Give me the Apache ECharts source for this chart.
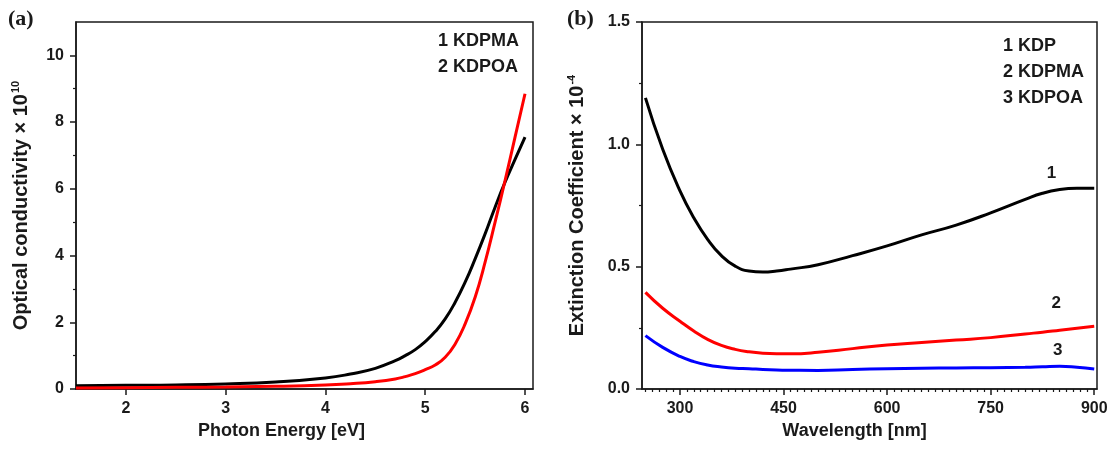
<!DOCTYPE html>
<html>
<head>
<meta charset="utf-8">
<script src="https://cdn.jsdelivr.net/npm/echarts@6/dist/echarts.min.js"></script>
<style>
  html, body { margin: 0; padding: 0; background: #fff; }
  #main { width: 1111px; height: 450px; }
</style>
</head>
<body>
<div id="main"></div>
<script>
// panel (a): optical conductivity vs photon energy
var energy = [1.5, 2.0, 2.5, 3.0, 3.5, 4.0, 4.25, 4.5, 4.7, 4.8, 4.9, 5.0, 5.1, 5.2, 5.3, 5.4, 5.5, 5.6, 5.7, 5.8, 5.9, 6.0];
var kdpmaCond = [0.10, 0.11, 0.12, 0.15, 0.21, 0.33, 0.45, 0.62, 0.85, 1.00, 1.18, 1.42, 1.72, 2.10, 2.60, 3.20, 3.90, 4.65, 5.45, 6.20, 6.88, 7.55];
var kdpoaCond = [0.03, 0.04, 0.05, 0.06, 0.08, 0.12, 0.16, 0.22, 0.30, 0.37, 0.46, 0.58, 0.72, 0.95, 1.35, 1.95, 2.75, 3.80, 5.00, 6.25, 7.55, 8.85];
var energyTicks = [2, 3, 4, 5, 6];
var condTicks = [0, 2, 4, 6, 8, 10];
var condMinor = [1, 3, 5, 7, 9];

// panel (b): extinction coefficient vs wavelength
var wavelength = [250, 275, 300, 320, 340, 360, 380, 400, 420, 440, 460, 500, 550, 600, 650, 700, 750, 800, 825, 850, 875, 900];
var kdpExt   = [1.19, 0.98, 0.81, 0.70, 0.612, 0.545, 0.502, 0.482, 0.478, 0.482, 0.49, 0.508, 0.545, 0.585, 0.63, 0.67, 0.72, 0.775, 0.80, 0.815, 0.82, 0.82];
var kdpmaExt = [0.395, 0.33, 0.277, 0.237, 0.203, 0.178, 0.162, 0.152, 0.146, 0.144, 0.144, 0.15, 0.165, 0.18, 0.19, 0.20, 0.21, 0.225, 0.232, 0.24, 0.248, 0.256];
var kdpoaExt = [0.218, 0.17, 0.133, 0.112, 0.098, 0.09, 0.085, 0.083, 0.08, 0.078, 0.077, 0.076, 0.08, 0.083, 0.085, 0.086, 0.087, 0.089, 0.091, 0.093, 0.089, 0.082];
var waveTicks = [300, 450, 600, 750, 900];

function pairs(xs, ys){
    var out = [];
    for(var i=0;i<xs.length;i++){
        out.push([xs[i], ys[i]]);
    }
    return out;
}
var waveMinor = [];
for(var w=250; w<=900; w+=10){
    if(waveTicks.indexOf(w) < 0) waveMinor.push(w);
}

var font = 'Liberation Sans, Arial, sans-serif';
var axisColor = '#1a1a1a';
var labelStyle = { color: '#1a1a1a', fontFamily: font, fontWeight: 'bold', fontSize: 16 };
var nameStyle = { color: '#1a1a1a', fontFamily: font, fontWeight: 'bold', fontSize: 18 };
var yNameRich = {
    a: { fontFamily: font, fontWeight: 'bold', fontSize: 20, color: '#1a1a1a' },
    s: { fontFamily: font, fontWeight: 'bold', fontSize: 11, color: '#1a1a1a', verticalAlign: 'top', padding: [0, 0, 11, 1] }
};

var myChart = echarts.init(document.getElementById('main'));
var option = {
    backgroundColor: '#fff',
    animation: false,
    grid: [
        { left: 76, top: 22, width: 457, height: 367, show: true, borderColor: axisColor, borderWidth: 1.5, backgroundColor: 'transparent' },
        { left: 642, top: 22, width: 455, height: 367, show: true, borderColor: axisColor, borderWidth: 1.5, backgroundColor: 'transparent' }
    ],
    xAxis: [
        {
            type: 'value', gridIndex: 0, min: 1.5, max: 6.08,
            name: 'Photon Energy [eV]', nameLocation: 'middle', nameGap: 33,
            nameTextStyle: Object.assign({ padding: [0, 46, 0, 0] }, nameStyle),
            axisLine: { show: true, onZero: false, lineStyle: { color: axisColor, width: 1.5 } },
            axisTick: { show: true, length: 6, customValues: energyTicks, lineStyle: { color: axisColor, width: 1.5 } },
            axisLabel: Object.assign({ customValues: energyTicks, margin: 12 }, labelStyle),
            splitLine: { show: false }
        },
        {
            type: 'value', gridIndex: 1, min: 245, max: 904,
            name: 'Wavelength [nm]', nameLocation: 'middle', nameGap: 33,
            nameTextStyle: Object.assign({ padding: [0, 30, 0, 0] }, nameStyle),
            axisLine: { show: true, onZero: false, lineStyle: { color: axisColor, width: 1.5 } },
            axisTick: { show: true, length: 6, customValues: waveTicks, lineStyle: { color: axisColor, width: 1.5 } },
            axisLabel: Object.assign({ customValues: waveTicks, margin: 12 }, labelStyle),
            splitLine: { show: false }
        },
        {
            // minor ticks every 10 nm
            type: 'value', gridIndex: 1, min: 245, max: 904, position: 'bottom',
            axisLine: { show: false },
            axisTick: { show: true, length: 3, customValues: waveMinor, lineStyle: { color: axisColor, width: 1.2 } },
            axisLabel: { show: false },
            splitLine: { show: false }
        }
    ],
    yAxis: [
        {
            type: 'value', gridIndex: 0, min: 0, max: 11,
            name: '{a|Optical conductivity × 10}{s|10}', nameLocation: 'middle', nameGap: 44,
            nameTextStyle: Object.assign({ rich: yNameRich }, nameStyle),
            axisLine: { show: true, onZero: false, lineStyle: { color: axisColor, width: 1.5 } },
            axisTick: { show: true, length: 6, customValues: condTicks, lineStyle: { color: axisColor, width: 1.5 } },
            axisLabel: Object.assign({ customValues: condTicks, margin: 12 }, labelStyle),
            splitLine: { show: false }
        },
        {
            type: 'value', gridIndex: 1, min: 0, max: 1.5, interval: 0.5,
            name: '{a|Extinction Coefficient × 10}{s|-4}', nameLocation: 'middle', nameGap: 54,
            nameTextStyle: Object.assign({ rich: yNameRich }, nameStyle),
            axisLine: { show: true, onZero: false, lineStyle: { color: axisColor, width: 1.5 } },
            axisTick: { show: true, length: 6, lineStyle: { color: axisColor, width: 1.5 } },
            minorTick: { show: true, splitNumber: 2, length: 3, lineStyle: { color: axisColor, width: 1.2 } },
            axisLabel: Object.assign({ margin: 12, formatter: function(v){ return v.toFixed(1); } }, labelStyle),
            splitLine: { show: false }
        },
        {
            // minor ticks at odd values
            type: 'value', gridIndex: 0, min: 0, max: 11, position: 'left',
            axisLine: { show: false },
            axisTick: { show: true, length: 3, customValues: condMinor, lineStyle: { color: axisColor, width: 1.2 } },
            axisLabel: { show: false },
            splitLine: { show: false }
        }
    ],
    series: [
        {
            name: 'KDPMA', type: 'line', xAxisIndex: 0, yAxisIndex: 0,
            data: pairs(energy, kdpmaCond), smooth: true, showSymbol: false,
            lineStyle: { color: '#000', width: 3 }, z: 3
        },
        {
            name: 'KDPOA', type: 'line', xAxisIndex: 0, yAxisIndex: 0,
            data: pairs(energy, kdpoaCond), smooth: true, showSymbol: false,
            lineStyle: { color: '#ff0000', width: 3 }, z: 4
        },
        {
            name: 'KDP', type: 'line', xAxisIndex: 1, yAxisIndex: 1,
            data: pairs(wavelength, kdpExt), smooth: true, showSymbol: false,
            lineStyle: { color: '#000', width: 3 },
            markPoint: {
                symbol: 'circle', symbolSize: 1, itemStyle: { color: 'transparent' },
                label: { show: true, formatter: '1', color: '#1a1a1a', fontFamily: font, fontWeight: 'bold', fontSize: 17 },
                data: [{ coord: [838, 0.88] }]
            }
        },
        {
            name: 'KDPMA b', type: 'line', xAxisIndex: 1, yAxisIndex: 1,
            data: pairs(wavelength, kdpmaExt), smooth: true, showSymbol: false,
            lineStyle: { color: '#ff0000', width: 3 },
            markPoint: {
                symbol: 'circle', symbolSize: 1, itemStyle: { color: 'transparent' },
                label: { show: true, formatter: '2', color: '#1a1a1a', fontFamily: font, fontWeight: 'bold', fontSize: 17 },
                data: [{ coord: [845, 0.35] }]
            }
        },
        {
            name: 'KDPOA b', type: 'line', xAxisIndex: 1, yAxisIndex: 1,
            data: pairs(wavelength, kdpoaExt), smooth: true, showSymbol: false,
            lineStyle: { color: '#0000ff', width: 3 },
            markPoint: {
                symbol: 'circle', symbolSize: 1, itemStyle: { color: 'transparent' },
                label: { show: true, formatter: '3', color: '#1a1a1a', fontFamily: font, fontWeight: 'bold', fontSize: 17 },
                data: [{ coord: [847, 0.16] }]
            }
        }
    ],
    graphic: [
        { type: 'text', left: 8, top: 8, style: { text: '(a)', font: 'bold 22px "Liberation Serif", serif', fill: '#1a1a1a' } },
        { type: 'text', left: 567, top: 8, style: { text: '(b)', font: 'bold 22px "Liberation Serif", serif', fill: '#1a1a1a' } },
        { type: 'text', right: 592, top: 28, style: { text: '1 KDPMA\n2 KDPOA', font: 'bold 18px "Liberation Sans", Arial, sans-serif', fill: '#1a1a1a', lineHeight: 26 } },
        { type: 'text', left: 1003, top: 33, style: { text: '1 KDP\n2 KDPMA\n3 KDPOA', font: 'bold 18px "Liberation Sans", Arial, sans-serif', fill: '#1a1a1a', lineHeight: 26 } }
    ]
};
myChart.setOption(option);
</script>
</body>
</html>
